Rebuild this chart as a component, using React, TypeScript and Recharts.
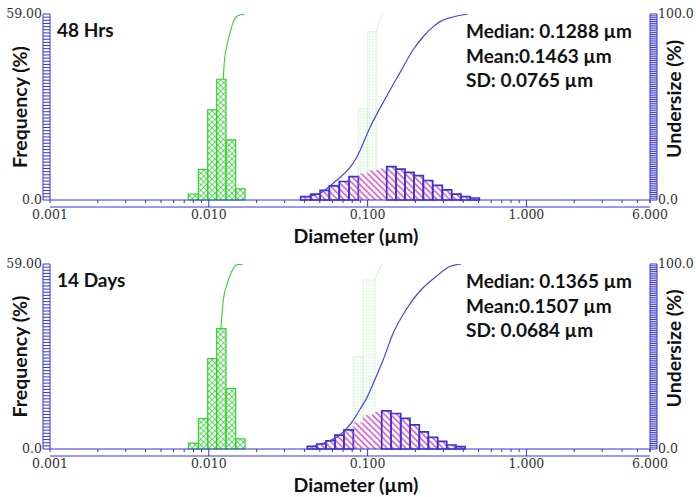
import { ComposedChart, Line, ReferenceArea, XAxis, YAxis } from 'recharts';

// bin edges (µm) and frequencies (%)
const GREEN_EDGES = [0.00743, 0.00859, 0.00984, 0.01121, 0.01283, 0.01477, 0.0169];
const GREEN_FREQ_48H = [1.9, 9.7, 28.6, 38.3, 19.1, 3.5];
const GREEN_FREQ_14D = [1.9, 9.7, 28.8, 38.4, 19.3, 3.2];

const BLUE_EDGES_48H = [
  0.0379, 0.0438, 0.0502, 0.0574, 0.0663, 0.0764, 0.0874, 0.1001, 0.1146, 0.1319,
  0.151, 0.172, 0.196, 0.2243, 0.257, 0.2954, 0.3385, 0.3875, 0.4414, 0.5051,
];
const BLUE_FREQ_48H = [
  1.04, 1.88, 3.04, 4.49, 5.87, 7.44, 8.47, 9.41, 10.04, 10.58, 9.82, 8.79, 7.75, 6.18, 4.61,
  3.23, 1.88, 1.04, 0.63,
];
const BLUE_EDGES_14D = [
  0.0417, 0.0478, 0.0547, 0.0623, 0.071, 0.0813, 0.0933, 0.1069, 0.1227, 0.1404, 0.1616,
  0.1849, 0.2116, 0.2411, 0.2763, 0.3149, 0.3603, 0.4107,
];
const BLUE_FREQ_14D = [
  0.86, 1.59, 2.63, 4.44, 6.12, 8.47, 10.78, 11.83, 12.15, 11.32, 9.74, 7.71, 5.49, 3.71, 2.44,
  1.27, 0.73,
];
// bins drawn only as pink hatch (no blue outline)
const OPEN_BINS_48H = [6, 7, 8];
const OPEN_BINS_14D = [5, 6, 7];

// faint green ghost bars near 0.1 µm
const PALE_EDGES_48H = [0.0874, 0.1001, 0.1146];
const PALE_FREQ_48H = [28.9, 53.4];
const PALE_EDGES_14D = [0.0809, 0.0935, 0.1113];
const PALE_FREQ_14D = [29.5, 53.9];

// cumulative undersize curves (%)
const GREEN_CUM_D_48H = [0.01234, 0.01247, 0.01296, 0.0136, 0.01427, 0.01512, 0.0169];
const GREEN_CUM_48H = [64.9, 72.0, 82.6, 89.7, 95.9, 98.9, 100];
const GREEN_CUM_D_14D = [0.01193, 0.01234, 0.01308, 0.01394, 0.01483, 0.01649];
const GREEN_CUM_14D = [65.1, 80.6, 89.6, 95.9, 99.5, 100];

const BLUE_CUM_D_48H = [
  0.04035, 0.05015, 0.06389, 0.07747, 0.0854, 0.1035, 0.1319, 0.16, 0.194, 0.2243, 0.2593,
  0.2857, 0.3449, 0.4287,
];
const BLUE_CUM_48H = [1.6, 3.7, 10.6, 17.5, 23.0, 39.0, 55.9, 68.5, 80.9, 87.9, 93.2, 95.9, 98.4, 100];
const BLUE_CUM_D_14D = [
  0.04597, 0.05711, 0.06606, 0.07941, 0.08956, 0.0987, 0.1086, 0.1256, 0.1439, 0.1745, 0.2116,
  0.2696, 0.3269, 0.3875,
];
const BLUE_CUM_14D = [1.6, 4.3, 7.2, 14.4, 21.5, 27.5, 35.5, 48.4, 62.0, 75.3, 85.0, 93.2, 98.5, 100];

const PALE_CUM_D_48H = [0.1141, 0.118, 0.1232];
const PALE_CUM_48H = [90.4, 95.7, 100];
const PALE_CUM_D_14D = [0.1113, 0.1163, 0.1227];
const PALE_CUM_14D = [91.4, 95.7, 100];

// axis ticks
const X_TICKS = [0.001, 0.01, 0.1, 1, 6];
const X_TICK_LABELS = ['0.001', '0.010', '0.100', '1.000', '6.000'];
const LEFT_TICKS = [0, 59];
const LEFT_TICK_LABELS = ['0.0', '59.00'];
const RIGHT_TICKS = [0, 100];
const RIGHT_TICK_LABELS = ['0.0', '100.0'];

const X_MINOR: number[] = [];
[0.001, 0.01, 0.1, 1].forEach((dec) => {
  for (let k = 1; k <= 9; k++) if (k * dec <= 6) X_MINOR.push(+(k * dec).toPrecision(3));
});
X_MINOR.push(6);
const LEFT_MINOR = Array.from({ length: 60 }, (_, i) => i);
const RIGHT_MINOR = Array.from({ length: 101 }, (_, i) => i);

const BLUE = '#3434d6';
const LINE_BLUE = '#4646dc';
const GREEN = '#2ed42e';
const PINK = '#e050d0';
const PALE = '#d4f2d4';
const SERIF = { fontFamily: '"DejaVu Serif", serif', fontSize: 12.5, fill: '#333' };
const TITLE = { fontFamily: 'Lato, "Open Sans", sans-serif', fontWeight: 700, fontSize: 19.5, fill: '#111' };
const STAT = { fontFamily: 'Lato, "Open Sans", sans-serif', fontWeight: 700, fontSize: 19, fill: '#111' };

type Pt = { d: number; u: number };
const zip = (d: number[], u: number[]): Pt[] => d.map((x, i) => ({ d: x, u: u[i] }));
const fmt = (ticks: number[], labels: string[]) => (v: number) => labels[ticks.indexOf(v)] ?? '';

const XTick = (p: any) => {
  const v = p.payload.value;
  const major = v === 0.01 || v === 0.1 || v === 1;
  return <line x1={p.x} x2={p.x} y1={p.y} y2={p.y + (major ? 7 : 3)} stroke={BLUE} strokeWidth={1} />;
};

interface PanelProps {
  id: string;
  top: number;
  marginTop: number;
  title: string;
  stats: string[];
  greenFreq: number[];
  blueEdges: number[];
  blueFreq: number[];
  openBins: number[];
  paleEdges: number[];
  paleFreq: number[];
  greenCum: Pt[];
  blueCum: Pt[];
  paleCum: Pt[];
}

const Panel = (p: PanelProps) => {
  const axisProps = {
    type: 'number' as const,
    scale: 'log' as const,
    domain: [0.001, 6],
    allowDataOverflow: true,
    dataKey: 'd',
  };
  // frequency points at bin starts: lets the frequency axes own a series
  const freqPts = zip(GREEN_EDGES.slice(0, -1), p.greenFreq);
  return (
    <div style={{ position: 'absolute', left: 0, top: p.top, width: 696, height: 248 }}>
      <ComposedChart width={696} height={248} margin={{ top: p.marginTop, right: 0, bottom: 0, left: 0 }}>
        <defs>
          <pattern id={`gx-${p.id}`} width="4" height="4" patternUnits="userSpaceOnUse" patternTransform="rotate(45)">
            <path d="M0 0H4M0 0V4" stroke={GREEN} strokeWidth="1.5" fill="none" />
          </pattern>
          <pattern id={`pk-${p.id}`} width="4.4" height="4.4" patternUnits="userSpaceOnUse" patternTransform="rotate(-45)">
            <line x1="0.8" y1="0" x2="0.8" y2="4.4" stroke={PINK} strokeWidth="1.5" />
          </pattern>
          <pattern id={`pl-${p.id}`} width="3" height="3" patternUnits="userSpaceOnUse">
            <path d="M0 0H3M0 0V3" stroke={PALE} strokeWidth="0.8" fill="none" />
          </pattern>
        </defs>

        <XAxis xAxisId="x" {...axisProps} ticks={X_MINOR} interval={0} height={7}
          stroke={BLUE} tickLine={false} tickSize={0} tickMargin={0} tick={XTick} />
        <XAxis xAxisId="xo" {...axisProps} ticks={X_TICKS} interval={0} height={41}
          stroke={BLUE} tickLine={false} tickSize={0} tickMargin={3} tick={SERIF}
          tickFormatter={fmt(X_TICKS, X_TICK_LABELS)}
          label={{ value: 'Diameter (µm)', position: 'insideBottom', offset: 5, dx: 6, style: TITLE }} />
        <XAxis xAxisId="xt" orientation="top" {...axisProps} height={0} stroke={BLUE} tick={false} tickLine={false} />

        <YAxis yAxisId="l" domain={[0, 59]} type="number" ticks={LEFT_MINOR} interval={0} width={7}
          allowDataOverflow stroke={BLUE} tickSize={7} tickFormatter={() => ''} />
        <YAxis yAxisId="lo" domain={[0, 59]} type="number" ticks={LEFT_TICKS} interval={0} width={43}
          allowDataOverflow stroke={BLUE} tickLine={false} tickSize={0} tickMargin={1} tick={SERIF}
          tickFormatter={fmt(LEFT_TICKS, LEFT_TICK_LABELS)}
          label={{ value: 'Frequency (%)', angle: -90, position: 'center', dx: -1, style: TITLE }} />
        <YAxis yAxisId="r" orientation="right" domain={[0, 100]} type="number" ticks={RIGHT_MINOR} interval={0}
          allowDataOverflow width={7} stroke={BLUE} tickSize={7} tickFormatter={() => ''} />
        <YAxis yAxisId="ro" orientation="right" domain={[0, 100]} type="number" ticks={RIGHT_TICKS} interval={0}
          allowDataOverflow width={39} stroke={BLUE} tickLine={false} tickSize={0} tickMargin={1} tick={SERIF}
          tickFormatter={fmt(RIGHT_TICKS, RIGHT_TICK_LABELS)}
          label={{ value: 'Undersize (%)', angle: -90, position: 'center', dx: -2, dy: -8, style: TITLE }} />

        {/* invisible carriers so every axis has a series (and thus a scale) */}
        <Line xAxisId="xo" yAxisId="l" data={freqPts} dataKey="u" stroke="none" dot={false} isAnimationActive={false} />
        <Line xAxisId="xt" yAxisId="lo" data={freqPts} dataKey="u" stroke="none" dot={false} isAnimationActive={false} />
        <Line xAxisId="x" yAxisId="ro" data={p.blueCum} dataKey="u" stroke="none" dot={false} isAnimationActive={false} />

        {p.paleFreq.map((v, i) => (
          <ReferenceArea key={`p${i}`} xAxisId="x" yAxisId="l" x1={p.paleEdges[i]} x2={p.paleEdges[i + 1]}
            y1={0} y2={v} fill={`url(#pl-${p.id})`} fillOpacity={1} stroke={PALE} strokeWidth={0.8} />
        ))}
        {p.greenFreq.map((v, i) => (
          <ReferenceArea key={`g${i}`} xAxisId="x" yAxisId="l" x1={GREEN_EDGES[i]} x2={GREEN_EDGES[i + 1]}
            y1={0} y2={v} fill={`url(#gx-${p.id})`} fillOpacity={1} stroke={GREEN} strokeWidth={1.2} />
        ))}
        {p.blueFreq.map((v, i) => (
          <ReferenceArea key={`b${i}`} xAxisId="x" yAxisId="l" x1={p.blueEdges[i]} x2={p.blueEdges[i + 1]}
            y1={0} y2={v} fill={`url(#pk-${p.id})`} fillOpacity={1}
            stroke={p.openBins.includes(i) ? 'none' : BLUE} strokeWidth={1.7} />
        ))}

        <Line xAxisId="x" yAxisId="r" data={p.paleCum} dataKey="u" type="monotone" stroke={PALE}
          strokeWidth={1} dot={false} isAnimationActive={false} />
        <Line xAxisId="x" yAxisId="r" data={p.greenCum} dataKey="u" type="monotone" stroke={GREEN}
          strokeWidth={1.1} dot={false} isAnimationActive={false} />
        <Line xAxisId="x" yAxisId="r" data={p.blueCum} dataKey="u" type="monotone" stroke={LINE_BLUE}
          strokeWidth={1.2} dot={false} isAnimationActive={false} />
      </ComposedChart>
      <svg width={696} height={248} style={{ position: 'absolute', left: 0, top: 0, pointerEvents: 'none' }}>
        <text x={57} y={p.marginTop + 23} style={STAT}>{p.title}</text>
        {p.stats.map((s, i) => (
          <text key={s} x={466} y={p.marginTop + 24 + i * 24.5} style={STAT}>{s}</text>
        ))}
      </svg>
    </div>
  );
}

export default function App() {
  return (
    <div style={{ position: 'absolute', left: 0, top: 0, width: 696, height: 497, background: '#fff' }}>
      <Panel id="a" top={0} marginTop={14} title="48 Hrs"
        stats={['Median: 0.1288 µm', 'Mean:0.1463 µm', 'SD: 0.0765 µm']}
        greenFreq={GREEN_FREQ_48H} blueEdges={BLUE_EDGES_48H} blueFreq={BLUE_FREQ_48H} openBins={OPEN_BINS_48H}
        paleEdges={PALE_EDGES_48H} paleFreq={PALE_FREQ_48H}
        greenCum={zip(GREEN_CUM_D_48H, GREEN_CUM_48H)} blueCum={zip(BLUE_CUM_D_48H, BLUE_CUM_48H)}
        paleCum={zip(PALE_CUM_D_48H, PALE_CUM_48H)} />
      <Panel id="b" top={249} marginTop={15} title="14 Days"
        stats={['Median: 0.1365 µm', 'Mean:0.1507 µm', 'SD: 0.0684 µm']}
        greenFreq={GREEN_FREQ_14D} blueEdges={BLUE_EDGES_14D} blueFreq={BLUE_FREQ_14D} openBins={OPEN_BINS_14D}
        paleEdges={PALE_EDGES_14D} paleFreq={PALE_FREQ_14D}
        greenCum={zip(GREEN_CUM_D_14D, GREEN_CUM_14D)} blueCum={zip(BLUE_CUM_D_14D, BLUE_CUM_14D)}
        paleCum={zip(PALE_CUM_D_14D, PALE_CUM_14D)} />
    </div>
  );
}
